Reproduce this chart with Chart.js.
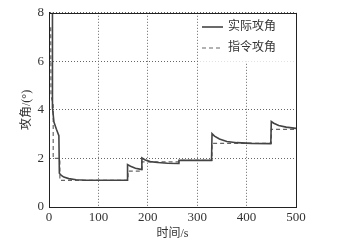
<!DOCTYPE html>
<html>
<head>
<meta charset="utf-8">
<script src="https://cdn.jsdelivr.net/npm/chart.js@4/dist/chart.umd.min.js"></script>
<style>
  html, body { margin: 0; padding: 0; background: #fff; }
  #wrap { width: 359px; height: 243px; }
</style>
</head>
<body>
<div id="wrap"><canvas id="c" width="359" height="243"></canvas></div>
<script>
// ---- données ----
const actualLabel = "实际攻角";
const commandLabel = "指令攻角";
const xTitle = "时间/s";
const yTitle = "攻角/(°)";

const actualT = [7, 7, 10, 15, 20, 21, 25, 30, 40, 55, 75, 100, 130, 158, 159, 165, 175, 186, 187, 188, 195, 205, 220, 240, 262, 263, 300, 329, 330, 335, 345, 360, 380, 410, 449, 450, 455, 465, 480, 500];
const actualAngle = [8.5, 4.1, 3.5, 3.2, 2.94, 1.39, 1.3, 1.23, 1.17, 1.12, 1.1, 1.1, 1.1, 1.1, 1.75, 1.68, 1.6, 1.55, 1.55, 2.02, 1.94, 1.87, 1.83, 1.8, 1.79, 1.92, 1.92, 1.92, 3.02, 2.92, 2.8, 2.7, 2.65, 2.62, 2.61, 3.52, 3.45, 3.36, 3.29, 3.24];

const commandT = [3.5, 4, 8.5, 8.5, 22, 22, 160, 160, 188, 188, 265, 265, 330, 330, 450, 450, 500];
const commandAngle = [7.4, 4.6, 4.2, 2.0, 2.0, 1.1, 1.1, 1.48, 1.48, 1.86, 1.86, 1.92, 1.92, 2.62, 2.62, 3.2, 3.2];

const xTicks = [0, 100, 200, 300, 400, 500];
const yTicks = [0, 2, 4, 6, 8];

const toPoints = (xs, ys) => xs.map((x, i) => ({ x: x, y: ys[i] }));

const SERIF = "'Liberation Serif', 'Noto Sans CJK SC', serif";
const TXT = "#333";

// cadre + fond blanc de la légende + légende
const framePlugin = {
    id: "frame",
    beforeDatasetsDraw(chart) {
        const { ctx, chartArea: a } = chart;
        ctx.save();
        ctx.fillStyle = "#fff";
        ctx.fillRect(199, a.top + 1, a.right - 200, 48);
        ctx.restore();
    },
    afterDraw(chart) {
        const { ctx, chartArea: a } = chart;
        ctx.save();
        ctx.setLineDash([]);
        ctx.strokeStyle = "#222";
        ctx.lineWidth = 1;
        ctx.strokeRect(Math.round(a.left) + 0.5, Math.round(a.top) + 0.5,
            Math.round(a.right - a.left), Math.round(a.bottom - a.top));

        // légende
        const rows = [
            { y: 27, label: actualLabel, dash: [] },
            { y: 48, label: commandLabel, dash: [4, 3] }
        ];
        rows.forEach(r => {
            ctx.beginPath();
            ctx.setLineDash(r.dash);
            ctx.strokeStyle = r.dash.length ? "#666" : "#444";
            ctx.lineWidth = r.dash.length ? 1.2 : 1.6;
            ctx.moveTo(202, r.y);
            ctx.lineTo(223, r.y);
            ctx.stroke();
            ctx.setLineDash([]);
            ctx.fillStyle = TXT;
            ctx.font = "12px " + SERIF;
            ctx.textBaseline = "middle";
            ctx.fillText(r.label, 228, r.y);
        });
        ctx.restore();
    }
};

new Chart(document.getElementById("c").getContext("2d"), {
    type: "line",
    data: {
        datasets: [
            {
                label: actualLabel,
                data: toPoints(actualT, actualAngle),
                borderColor: "#444",
                borderWidth: 1.6,
                pointRadius: 0,
                tension: 0
            },
            {
                label: commandLabel,
                data: toPoints(commandT, commandAngle),
                borderColor: "#666",
                borderWidth: 1.2,
                borderDash: [4, 3],
                pointRadius: 0,
                tension: 0
            }
        ]
    },
    options: {
        responsive: false,
        animation: false,
        devicePixelRatio: 1,
        layout: { padding: { left: 0, right: 63, top: 11, bottom: 0 } },
        plugins: {
            legend: { display: false },
            tooltip: { enabled: false }
        },
        scales: {
            x: {
                type: "linear",
                min: 0,
                max: 500,
                afterBuildTicks: s => { s.ticks = xTicks.map(v => ({ value: v })); },
                afterFit: s => { s.height = 36; },
                grid: {
                    color: "#666",
                    lineWidth: 1,
                    drawTicks: false
                },
                border: { display: true, color: "#222", dash: [1, 2] },
                ticks: {
                    color: TXT,
                    padding: 3,
                    maxRotation: 0,
                    font: { family: SERIF, size: 13 }
                },
                title: {
                    display: true,
                    text: xTitle,
                    color: TXT,
                    padding: { top: 0, bottom: 2 },
                    font: { family: SERIF, size: 12 }
                }
            },
            y: {
                min: 0,
                max: 8,
                afterBuildTicks: s => { s.ticks = yTicks.map(v => ({ value: v })); },
                afterFit: s => { s.width = 49; },
                grid: {
                    color: "#666",
                    lineWidth: 1,
                    drawTicks: false
                },
                border: { display: true, color: "#222", dash: [1, 2] },
                ticks: {
                    color: TXT,
                    padding: 5,
                    font: { family: SERIF, size: 13 }
                },
                title: {
                    display: true,
                    text: yTitle,
                    color: TXT,
                    padding: { top: 20, bottom: 0 },
                    font: { family: SERIF, size: 12 }
                }
            }
        }
    },
    plugins: [framePlugin]
});
</script>
</body>
</html>
